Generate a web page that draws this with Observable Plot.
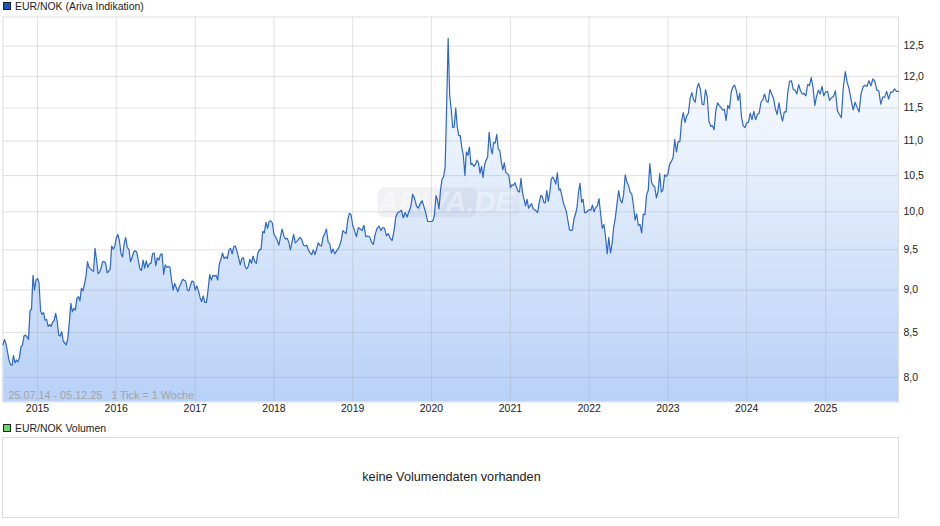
<!DOCTYPE html>
<html><head><meta charset="utf-8">
<script src="https://cdn.jsdelivr.net/npm/d3@7"></script>
<script src="https://cdn.jsdelivr.net/npm/@observablehq/plot@0.6"></script>
<style>
html,body{margin:0;padding:0;background:#fff;width:940px;height:526px;overflow:hidden}
body{position:relative;font:10.45px "Liberation Sans",Arial,sans-serif;color:#222}
.leg{position:absolute;left:3px;height:14px;line-height:14px;white-space:nowrap}
.leg i{display:inline-block;width:6px;height:6px;border:1px solid #222;margin-right:4px;vertical-align:0px}
#chart{position:absolute;left:0;top:14px}
#vol{position:absolute;left:2px;top:437px;width:895px;height:79px;border:1px solid #ddd;text-align:center;text-indent:2px;line-height:79px;font-size:12.7px;color:#222}
svg text{font-family:"Liberation Sans",Arial,sans-serif}
</style></head><body>
<div class="leg" style="top:0px"><i style="background:#1a56b8"></i>EUR/NOK (Ariva Indikation)</div>
<div id="chart"></div>
<div class="leg" style="top:422px"><i style="background:#66d966"></i>EUR/NOK Volumen</div>
<div id="vol">keine Volumendaten vorhanden</div>
<script>
const y2014=[8.36,8.42,8.37,8.28,8.19,8.14,8.13,8.24,8.16,8.19,8.17,8.22,8.34,8.36,8.46,8.47,8.45,8.42,8.75,8.77,9.18,9.00,9.12];
const y2015=[9.14,9.09,8.75,8.71,8.73,8.64,8.65,8.57,8.59,8.57,8.62,8.64,8.72,8.63,8.47,8.46,8.51,8.40,8.38,8.36,8.43,8.61,8.84,8.74,8.78,8.76,8.90,8.92,8.87,9.02,8.99,9.07,9.17,9.35,9.28,9.26,9.24,9.23,9.52,9.37,9.20,9.22,9.27,9.35,9.35,9.33,9.21,9.23,9.26,9.55,9.51,9.54];
const y2016=[9.65,9.70,9.62,9.45,9.41,9.58,9.66,9.53,9.51,9.35,9.40,9.47,9.49,9.47,9.36,9.26,9.24,9.37,9.27,9.36,9.28,9.32,9.33,9.45,9.46,9.30,9.40,9.37,9.44,9.45,9.19,9.31,9.28,9.29,9.28,9.12,9.00,9.08,9.03,8.98,9.04,9.08,9.13,9.12,9.11,9.00,8.99,9.06,9.11,9.10];
const y2017=[9.00,9.05,8.99,8.91,8.86,8.93,8.85,8.85,9.00,9.19,9.12,9.18,9.17,9.18,9.12,9.32,9.38,9.46,9.39,9.41,9.39,9.50,9.52,9.45,9.54,9.55,9.48,9.40,9.31,9.39,9.40,9.29,9.26,9.29,9.38,9.33,9.42,9.35,9.33,9.46,9.50,9.51,9.74,9.72,9.86,9.78,9.87,9.88,9.85];
const y2018=[9.70,9.67,9.62,9.56,9.67,9.77,9.68,9.64,9.65,9.60,9.50,9.60,9.70,9.59,9.61,9.64,9.66,9.63,9.56,9.55,9.56,9.50,9.46,9.44,9.50,9.44,9.51,9.59,9.56,9.55,9.67,9.71,9.77,9.60,9.58,9.46,9.51,9.45,9.48,9.51,9.55,9.62,9.75,9.73,9.71,9.89,9.98,9.96];
const y2019=[9.82,9.75,9.67,9.79,9.77,9.75,9.82,9.67,9.68,9.67,9.60,9.57,9.70,9.78,9.81,9.75,9.79,9.78,9.68,9.71,9.65,9.62,9.74,9.93,9.99,10.00,10.02,9.92,9.99,9.93,10.00,10.07,10.24,10.18,10.08,10.05,10.11,10.15,10.07,9.98,9.87,9.87];
const y2020=[9.87,9.88,9.96,10.22,10.16,10.04,10.30,10.45,10.48,10.62,11.50,12.63,11.70,11.48,11.20,11.21,11.50,11.21,11.08,11.08,10.90,10.79,10.50,10.84,10.79,10.91,10.66,10.67,10.63,10.66,10.72,10.68,10.53,10.63,10.47,10.65,10.72,10.76,11.13,10.91,10.81,10.98,10.97,11.10,10.88,10.86,10.70,10.58,10.68,10.54,10.53,10.50];
const y2021=[10.33,10.37,10.36,10.40,10.34,10.28,10.27,10.46,10.26,10.17,10.08,10.17,10.05,10.08,10.11,10.04,10.03,10.01,9.99,10.12,10.22,10.21,10.13,10.12,10.29,10.14,10.26,10.45,10.48,10.44,10.38,10.54,10.30,10.31,10.22,10.12,10.06,10.00,9.88,9.76,9.75,9.76,9.91,9.97,10.06,10.27,10.39,10.13,10.17,9.99,9.99,10.01];
const y2022=[10.03,10.02,10.09,10.00,10.06,10.08,10.18,9.97,9.78,9.83,9.67,9.45,9.66,9.46,9.58,9.80,9.92,10.11,10.29,10.16,10.12,10.23,10.51,10.41,10.36,10.27,10.24,10.09,9.89,9.97,9.82,9.83,9.72,9.97,9.96,10.23,10.29,10.67,10.41,10.36,10.34,10.19,10.27,10.53,10.27,10.30,10.51,10.49];
const y2023=[10.52,10.66,10.70,10.75,11.02,10.84,10.99,10.99,11.30,11.43,11.28,11.38,11.42,11.65,11.74,11.63,11.59,11.81,11.89,11.79,11.56,11.55,11.79,11.67,11.30,11.22,11.23,11.17,11.46,11.58,11.54,11.51,11.47,11.48,11.31,11.54,11.49,11.75,11.83,11.86,11.77,11.62,11.73,11.36,11.23,11.20];
const y2024=[11.27,11.28,11.42,11.32,11.45,11.32,11.40,11.42,11.59,11.63,11.72,11.61,11.59,11.79,11.72,11.65,11.49,11.40,11.58,11.41,11.30,11.44,11.44,11.77,11.92,11.93,11.79,11.78,11.72,11.87,11.77,11.72,11.73,11.69,11.87,11.85,11.98,11.82,11.54,11.69,11.78,11.72,11.84,11.69];
const y2025=[11.75,11.76,11.62,11.66,11.68,11.77,11.46,11.40,11.35,11.82,12.08,11.90,11.79,11.62,11.47,11.59,11.51,11.44,11.72,11.83,11.86,11.84,11.93,11.85,11.96,11.92,11.78,11.77,11.56,11.67,11.67,11.76,11.64,11.75,11.75,11.80,11.76,11.76];

const seriesByYear=[
  ["2014-07-25","2015-01-01",y2014],["2015-01-01","2016-01-01",y2015],["2016-01-01","2017-01-01",y2016],
  ["2017-01-01","2018-01-01",y2017],["2018-01-01","2019-01-01",y2018],["2019-01-01","2020-01-01",y2019],
  ["2020-01-01","2021-01-01",y2020],["2021-01-01","2022-01-01",y2021],["2022-01-01","2023-01-01",y2022],
  ["2023-01-01","2024-01-01",y2023],["2024-01-01","2025-01-01",y2024],["2025-01-01","2025-12-05",y2025]
];
const rows=seriesByYear.flatMap(([a,b,vals])=>{
  const s=+new Date(a),e=+new Date(b),last=b==="2025-12-05";
  return vals.map((v,i)=>({date:new Date(s+(e-s)*i/(last?vals.length-1:vals.length)),value:v}));
});
const yearTicks=["2015-01-01","2016-01-01","2017-01-01","2018-01-01","2019-01-01","2020-01-01","2021-01-01","2022-01-01","2023-01-01","2024-01-01","2025-01-01"].map(d=>new Date(d));
const valueTicks=[8,8.5,9,9.5,10,10.5,11,11.5,12,12.5];
const dateRange=[new Date("2014-07-25"),new Date("2025-12-05")];
const valueRange=[7.74,13];
const base=valueRange[0];
const rangeNote="25.07.14 - 05.12.25   1 Tick = 1 Woche";
const fmtY=d=>d.toFixed(1).replace(".",",");

const gradient=()=>{
  const defs=d3.create("svg:defs");
  const g=defs.append("linearGradient").attr("id","fillGrad").attr("x1",0).attr("y1",0).attr("x2",0).attr("y2",1);
  g.append("stop").attr("offset",0).attr("stop-color","#ffffff");
  g.append("stop").attr("offset",1).attr("stop-color","#b8d1f7");
  return defs.node();
};

const plot=Plot.plot({
  width:940,height:406,
  marginLeft:2.5,marginRight:42,marginTop:2.5,marginBottom:18.5,
  x:{type:"time",domain:dateRange},
  y:{type:"log",domain:valueRange},
  style:{fontFamily:'"Liberation Sans",Arial,sans-serif',fontSize:"10.5px",background:"transparent",color:"#222"},
  marks:[
    gradient,
    Plot.areaY(rows,{x:"date",y1:()=>base,y2:"value",fill:"url(#fillGrad)",curve:"linear"}),
    Plot.rect([{a:new Date("2019-04-28"),b:new Date("2020-08-01")}],{x1:"a",x2:"b",y1:()=>9.92,y2:()=>10.33,fill:"#7a7a8c",fillOpacity:0.1,rx:7}),
    Plot.rect([{a:new Date("2020-08-01"),b:new Date("2021-02-15")}],{x1:"a",x2:"b",y1:()=>9.92,y2:()=>10.33,fill:"#7a7a8c",fillOpacity:0.04,rx:7}),
    Plot.text(["ARIVA.DE"],{x:()=>new Date("2020-03-10"),y:()=>10.12,text:d=>d,fontSize:29,fontWeight:"bold",fontStyle:"italic",fill:"#fff",fillOpacity:0.4}),
    Plot.ruleX(yearTicks,{stroke:"#9aa0aa",strokeOpacity:0.3}),
    Plot.ruleY(valueTicks,{stroke:"#9aa0aa",strokeOpacity:0.3}),
    Plot.frame({stroke:"#dddddd"}),
    Plot.line(rows,{x:"date",y:"value",stroke:"#2e68c4",strokeWidth:1.2,curve:"linear"}),
    Plot.text([rangeNote],{frameAnchor:"bottom-left",dx:5.5,dy:-3,text:d=>d,fill:"#a3a3a3",fontSize:10.8,textAnchor:"start"}),
    Plot.axisX({ticks:yearTicks,tickFormat:d=>String(d.getUTCFullYear()),tickSize:0,tickPadding:3,label:null,fill:"#222"}),
    Plot.axisY({anchor:"right",ticks:valueTicks,tickFormat:fmtY,tickSize:0,tickPadding:5,label:null,fill:"#222"})
  ]
});
document.getElementById("chart").append(plot);
</script>
</body></html>
